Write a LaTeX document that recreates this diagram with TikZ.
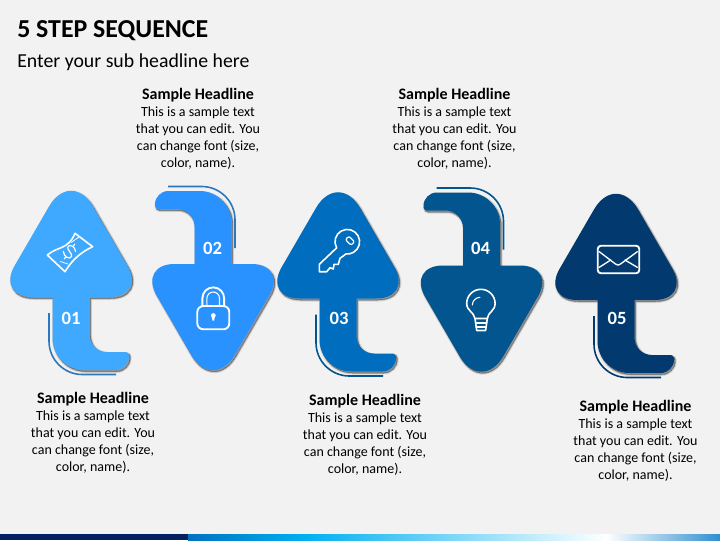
\documentclass[tikz,border=0pt]{standalone}
\usepackage{fontspec}
\setmainfont{Carlito}
\usepackage{tikz}
\usetikzlibrary{calc}

\definecolor{pagebg}{HTML}{F2F2F2}
\definecolor{stepa}{HTML}{3FA9FF}
\definecolor{stepb}{HTML}{2A92FF}
\definecolor{stepc}{HTML}{016DBF}
\definecolor{stepd}{HTML}{02558F}
\definecolor{stepe}{HTML}{023A6F}
\definecolor{linea}{HTML}{2B78BE}
\definecolor{lined}{HTML}{02558F}
\definecolor{linee}{HTML}{023A6F}
\definecolor{stripa}{HTML}{002060}
\definecolor{stripb}{HTML}{0070C0}
\definecolor{stripc}{HTML}{00B0F0}
\definecolor{stripd}{HTML}{2E8FD0}

\tikzset{
  blurb/.style={align=center, text=black, font=\fontsize{10.5}{12.75}\selectfont, inner sep=0pt},
  stepnum/.style={text=white, font=\fontsize{14}{14}\selectfont\bfseries, inner sep=0pt},
  icon/.style={draw=white, line width=1.4pt, line join=round, line cap=round},
}

% outline of one arrow, origin at the middle of the head base
\newcommand{\arrowpath}{
  (-18.5,0) [rounded corners=27pt] -- (-74.5,0) [rounded corners=33pt] -- (0,-128.5)
  [rounded corners=27pt] -- (74.5,0) [sharp corners] -- (18.5,0)
  [rounded corners=13pt] -- (18.5,55) [rounded corners=2.5pt] -- (58,55)
  [rounded corners=10pt] -- (58,73) [rounded corners=24pt] -- (-18.5,73) [sharp corners] -- cycle
}
\newcommand{\blurbtext}{{\fontsize{12}{12.75}\selectfont\bfseries Sample Headline}\\This is a sample text\\that you can edit. You\\can change font (size,\\color, name).}

\begin{document}
\begin{tikzpicture}[x=0.75pt,y=-0.75pt]
\useasboundingbox (0,0) rectangle (720,540);

% Page and bottom strip
\fill[pagebg] (0,0) rectangle (720,540);
\fill[left color=stripb, right color=stripc] (188,534) rectangle (305,540);
\fill[left color=stripc, right color=white] (305,534) rectangle (606,540);
\fill[left color=white, right color=stripd] (606,534) rectangle (720,540);
\fill[stripa] (0,534) rectangle (188,540);

% Titles
\node[anchor=west, inner sep=0pt, font=\fontsize{19.4}{22}\selectfont\bfseries] (title) at (17,30.5) {5 STEP SEQUENCE};
\node[anchor=west, inner sep=0pt, font=\fontsize{14.85}{18}\selectfont] (subtitle) at (17,62) {Enter your sub headline here};

% Arrows
\foreach \n/\xx/\yy/\aa/\cc/\ll in {01/71/297/0/stepa/linea, 02/213/264/180/stepb/linea, 03/338/298.5/0/stepc/lined, 04/481.5/265.5/180/stepd/lined, 05/616/300/0/stepe/linee} {
  \foreach \w in {3,2,1,0} {
    \filldraw[black, opacity=0.09, line width=\w*0.75pt, shift={(1.2,1.5)}, shift={(\xx,\yy)}, rotate=\aa] \arrowpath;
  }
  \fill[\cc, shift={(\xx,\yy)}, rotate=\aa] \arrowpath;
  \draw[\ll, line width=1.2pt, shift={(\xx,\yy)}, rotate=\aa] (-22,16) [rounded corners=25pt] -- (-22,77.5) -- (45,77.5);
}

% Numbers
\node[stepnum] (num01) at (71,318.3) {01};
\node[stepnum] (num02) at (212.7,248.3) {02};
\node[stepnum] (num03) at (339,318.3) {03};
\node[stepnum] (num04) at (480.7,248.3) {04};
\node[stepnum] (num05) at (617,318.3) {05};

% Texts
\node[blurb] (text01) at (93,433) {\blurbtext};
\node[blurb] (text02) at (198,129) {\blurbtext};
\node[blurb] (text03) at (365,435) {\blurbtext};
\node[blurb] (text04) at (454.5,129) {\blurbtext};
\node[blurb] (text05) at (635.5,441) {\blurbtext};

% Banknote
\draw[icon, line width=1.2pt] (47.3,255) .. controls (58,246) and (68,250) .. (75,233.3) -- (92.7,246.7)
  .. controls (81,252) and (72,260) .. (65,271.7) -- cycle;
\draw[icon, line width=0.6pt] (71,242.5) -- (79,237);
\draw[icon, line width=0.6pt] (60.5,261.5) -- (68,264);
\draw[icon, line width=0.9pt, shift={(69.5,251.5)}, rotate=-35] (5,-3.5) .. controls (2,-7.5) and (-5,-6.5) .. (-4,-2.5)
  .. controls (-3,0) and (4,0) .. (4.5,3) .. controls (5,7) and (-2,7.5) .. (-5,3.5);
\draw[icon, line width=0.9pt, shift={(69.5,251.5)}, rotate=-35] (0,-7) -- (0,-9) (0,7) -- (0,9);

% Padlock
\draw[icon, rounded corners=4.5pt] (197.3,306) rectangle (229.3,329.3);
\draw[icon] (202.4,306) -- (202.4,298.2) arc[start angle=180, end angle=360, radius=10.85] -- (224.1,306);
\draw[icon, line width=0.8pt] (206.9,306) -- (206.9,298.3) arc[start angle=180, end angle=360, radius=6.3] -- (219.5,306);
\fill[white] (213.3,315.5) circle (2.4);
\fill[white] (211.8,316) -- (214.8,316) -- (214.2,320.5) -- (212.4,320.5) -- cycle;

% Key
\draw[icon, line width=1.2pt] (336.65,247.85) arc[start angle=150, end angle=456, radius=12.3]
  -- (340,258.3) -- (338.3,264.3) -- (334,264.3) -- (333.3,269) -- (330,267.7) -- (326.7,271.7)
  -- (319.3,271.7) -- (319.3,264.3) -- cycle;
\draw[icon, line width=0.9pt, rounded corners=1.5pt, rotate around={-45:(350,240.7)}] (346,238.2) rectangle (354,243.2);

% Bulb
\draw[icon, line width=1.2pt] (475,318.5) .. controls (474,312) and (466.7,311) .. (466.7,303.5)
  arc[start angle=180, end angle=360, radius=14.2]
  .. controls (495.1,311) and (488,312) .. (487.3,318.5) -- cycle;
\draw[icon, line width=0.8pt] (472.3,305) .. controls (472.5,300.5) and (476,297.5) .. (480,297.3);
\draw[icon, line width=1.2pt] (475,318.5) -- (476.7,330.5) -- (485.6,330.5) -- (487.3,318.5);
\draw[icon, line width=0.9pt] (475.5,323) -- (486.8,323);
\draw[icon, line width=0.9pt] (476,327) -- (486.3,327);

% Envelope
\draw[icon, rounded corners=2.5pt] (597.7,245.7) rectangle (639.3,273.3);
\draw[icon, line width=1pt] (599.3,251.7) -- (615.5,264) .. controls (617,265.5) and (619,265.5) .. (620.5,264) -- (637.3,251.7);
\draw[icon, line width=1pt] (599.3,267.3) -- (610.7,260);
\draw[icon, line width=1pt] (637.3,267.3) -- (625,260);

\end{tikzpicture}
\end{document}
